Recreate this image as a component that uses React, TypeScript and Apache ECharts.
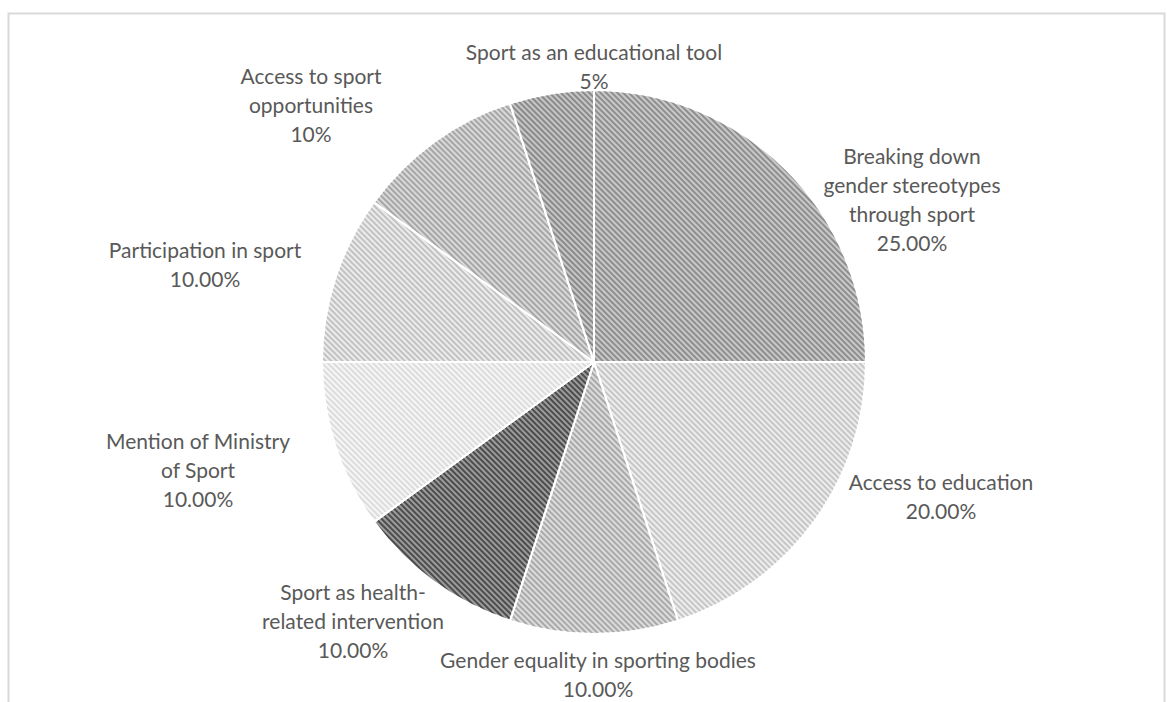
import React, { useEffect, useRef } from "react";
import * as echarts from "echarts";

const categories = [
  "Breaking down\ngender stereotypes\nthrough sport",
  "Access to education",
  "Gender equality in sporting bodies",
  "Sport as health-\nrelated intervention",
  "Mention of Ministry\nof Sport",
  "Participation in sport",
  "Access to sport\nopportunities",
  "Sport as an educational tool",
];
const values = [25, 20, 10, 10, 10, 10, 10, 5];
const percentLabels = ["25.00%", "20.00%", "10.00%", "10.00%", "10.00%", "10.00%", "10%", "5%"];

// styles (not data)
const baseColors = ["#c9c9c9", "#ededed", "#dcdcdc", "#9c9c9c", "#f6f6f6", "#ececec", "#d9d9d9", "#c6c6c6"];
const stripeColors = ["#8e8e8e", "#c6c6c6", "#a9a9a9", "#4c4c4c", "#dcdcdc", "#c2c2c2", "#a6a6a6", "#8a8a8a"];
const labelPos: [number, number][] = [
  [912, 199],
  [941, 496],
  [598, 674],
  [353, 620],
  [198, 469],
  [205, 264],
  [311, 104],
  [594, 66],
];

export default function App() {
  const ref = useRef<HTMLDivElement>(null);
  useEffect(() => {
    if (!ref.current) return;
    const chart = echarts.init(ref.current, undefined, { renderer: "svg" });
    const data = values.map((v, i) => ({
      name: categories[i],
      value: v,
      itemStyle: {
        color: baseColors[i],
        decal: {
          symbol: "rect",
          symbolSize: 1,
          dashArrayX: [1, 0],
          dashArrayY: [2, 2],
          rotation: Math.PI / 4,
          color: stripeColors[i],
        },
      },
    }));
    chart.setOption({
      animation: false,
      backgroundColor: "#ffffff",
      graphic: [
        {
          type: "rect",
          shape: { x: 8.5, y: 13.5, width: 1156, height: 740 },
          style: { fill: "none", stroke: "#d9d9d9", lineWidth: 2 },
          silent: true,
        },
      ],
      series: [
        {
          type: "pie",
          center: [594, 362],
          radius: 272,
          startAngle: 90,
          clockwise: true,
          data,
          itemStyle: { borderColor: "#ffffff", borderWidth: 2 },
          label: {
            show: true,
            position: "outside",
            formatter: (p: any) => `${categories[p.dataIndex]}\n${percentLabels[p.dataIndex]}`,
            fontFamily: "Lato",
            fontSize: 21,
            lineHeight: 29,
            color: "#595959",
            align: "center",
          },
          labelLine: { show: false },
          labelLayout: (p: any) => ({
            x: labelPos[p.dataIndex][0],
            y: labelPos[p.dataIndex][1],
            align: "center",
            verticalAlign: "middle",
          }),
        },
      ],
    });
    return () => chart.dispose();
  }, []);
  return (
    <div
      ref={ref}
      style={{ position: "fixed", left: 0, top: 0, width: 1167, height: 702 }}
    />
  );
}
